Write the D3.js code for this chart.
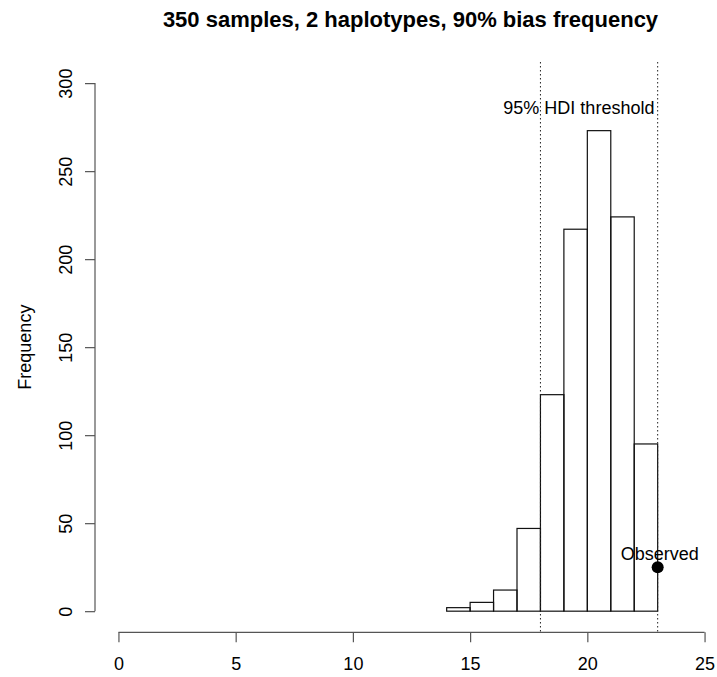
<!DOCTYPE html>
<html>
<head>
<meta charset="utf-8">
<script src="https://cdn.jsdelivr.net/npm/d3@7"></script>
<style>
  body { margin: 0; background: #fff; }
  text { font-family: "Liberation Sans", Arial, sans-serif; fill: #000; }
</style>
</head>
<body>
<div id="vis"></div>
<script>
// histogram bins (left edges) and counts
var binStarts = [14, 15, 16, 17, 18, 19, 20, 21, 22];
var binCounts = [2, 5, 12, 47, 123, 217, 273, 224, 95];
var binWidth = 1;

// HDI thresholds and observed value
var hdiLines = [18, 23];
var observed = { x: 23, y: 25 };

var xTicks = [0, 5, 10, 15, 20, 25];
var yTicks = [0, 50, 100, 150, 200, 250, 300];

var width = 717;
var height = 677;

// plot region, R style with 4% padding on both axes
var x = d3.scaleLinear().domain([-1, 26]).range([95, 728]);
var y = d3.scaleLinear().domain([-12, 312]).range([632.3, 62]);

var svg = d3.select('#vis').append('svg')
  .attr('width', width)
  .attr('height', height);

// title
svg.append('text')
  .attr('x', 410.5)
  .attr('y', 27)
  .attr('text-anchor', 'middle')
  .style('font-size', '22px')
  .style('font-weight', 'bold')
  .text('350 samples, 2 haplotypes, 90% bias frequency');

// bars
var bars = binStarts.map(function (s, i) { return { x0: s, x1: s + binWidth, n: binCounts[i] }; });
svg.selectAll('.bar')
  .data(bars)
  .enter().append('rect')
  .attr('class', 'bar')
  .attr('x', function (d) { return x(d.x0); })
  .attr('width', function (d) { return x(d.x1) - x(d.x0); })
  .attr('y', function (d) { return y(d.n); })
  .attr('height', function (d) { return y(0) - y(d.n); })
  .attr('fill', 'none')
  .attr('stroke', '#111')
  .attr('stroke-width', 1.2);

// dotted threshold lines span whole plot region
svg.selectAll('.hdi')
  .data(hdiLines)
  .enter().append('line')
  .attr('class', 'hdi')
  .attr('x1', function (d) { return x(d); })
  .attr('x2', function (d) { return x(d); })
  .attr('y1', y.range()[1])
  .attr('y2', y.range()[0])
  .attr('stroke', '#222')
  .attr('stroke-width', 1)
  .attr('stroke-dasharray', '1.5,2.5');

svg.append('text')
  .attr('x', x(19.64))
  .attr('y', y(282.6))
  .attr('text-anchor', 'middle')
  .style('font-size', '18px')
  .text('95% HDI threshold');

// observed point
svg.append('circle')
  .attr('cx', x(observed.x))
  .attr('cy', y(observed.y))
  .attr('r', 6)
  .attr('fill', '#000');

svg.append('text')
  .attr('x', x(observed.x) + 2)
  .attr('y', y(observed.y) - 7)
  .attr('text-anchor', 'middle')
  .style('font-size', '18px')
  .text('Observed');

// x axis
var xAxis = svg.append('g')
  .attr('transform', 'translate(0,' + y.range()[0] + ')')
  .call(d3.axisBottom(x).tickValues(xTicks).tickSize(10).tickSizeOuter(0));
xAxis.select('.domain')
  .attr('d', 'M' + x(xTicks[0]) + ',0H' + x(xTicks[xTicks.length - 1]));
xAxis.selectAll('.tick text')
  .attr('y', 37.7)
  .attr('dy', 0);

// y axis
var yAxis = svg.append('g')
  .attr('transform', 'translate(' + x.range()[0] + ',0)')
  .call(d3.axisLeft(y).tickValues(yTicks).tickSize(10).tickSizeOuter(0));
yAxis.select('.domain')
  .attr('d', 'M0,' + y(yTicks[0]) + 'V' + y(yTicks[yTicks.length - 1]));
yAxis.selectAll('.tick text')
  .attr('transform', 'rotate(-90)')
  .attr('x', 0)
  .attr('y', -23)
  .attr('dy', 0)
  .attr('text-anchor', 'middle');

[xAxis, yAxis].forEach(function (g) {
  g.selectAll('.domain, .tick line').attr('stroke', '#555').attr('stroke-width', 1.2);
  g.selectAll('.tick text')
    .style('font-size', '18px')
    .style('font-family', '"Liberation Sans", Arial, sans-serif')
    .attr('fill', '#000');
});

// y label
svg.append('text')
  .attr('transform', 'translate(31,' + ((y(0) + y(300)) / 2) + ') rotate(-90)')
  .attr('text-anchor', 'middle')
  .style('font-size', '18px')
  .text('Frequency');
</script>
</body>
</html>
